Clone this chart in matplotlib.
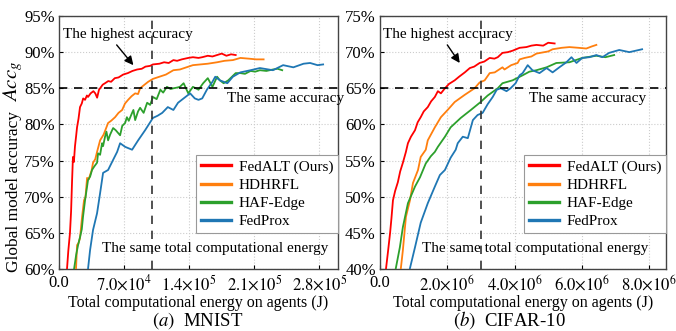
import matplotlib
matplotlib.use('Agg')
import matplotlib.pyplot as plt
import numpy as np
from matplotlib.ticker import FuncFormatter, MultipleLocator

plt.rcParams['font.family'] = ['Liberation Serif', 'DejaVu Serif']
plt.rcParams['mathtext.fontset'] = 'stix'

# ---------------- data: MNIST (energy in 1e4 J, accuracy in %) ----------------
mn_scale = 1e4
mn_red_e = [0.86, 1.0, 1.18, 1.3, 1.4, 1.5, 1.6, 1.72, 1.85, 1.94, 2.1, 2.26, 2.45, 2.6, 2.8,
            3.0, 3.12, 3.4, 3.7, 3.9, 4.1, 4.3, 4.42, 4.7, 4.95, 5.3, 5.6, 6.0, 6.4, 6.9,
            7.4, 7.9, 8.4, 8.9, 9.3, 9.8, 10.1, 10.8, 11.3, 11.8, 12.3, 12.7, 13.2, 13.9,
            14.4, 15.0, 15.4, 16.0, 16.5, 17.0, 17.5, 18.0, 18.5, 19.0]
mn_red_a = [60.0, 62.5, 65.0, 68.0, 72.0, 75.5, 74.8, 77.0, 78.5, 79.6, 80.8, 82.4, 82.9, 83.6, 83.4,
            84.0, 83.8, 84.3, 84.6, 84.3, 83.7, 84.8, 85.0, 85.5, 85.7, 86.0, 85.9, 86.4, 86.5, 86.9,
            87.1, 87.4, 87.6, 87.7, 88.0, 88.1, 88.3, 88.4, 88.6, 88.5, 88.9, 88.8, 89.0, 89.2,
            89.3, 89.2, 89.3, 89.5, 89.4, 89.6, 89.8, 89.5, 89.7, 89.6]

mn_org_e = [1.83, 1.94, 2.1, 2.26, 2.48, 2.69, 2.85, 3.02, 3.2, 3.34, 3.5, 3.66, 3.9, 4.09, 4.42,
            4.8, 5.28, 5.6, 6.03, 6.4, 6.79, 7.1, 7.43, 7.8, 8.19, 8.5, 8.72, 9.1, 9.59, 10.1,
            10.8, 11.5, 12.3, 13.0, 13.7, 14.4, 15.2, 16.0, 17.0, 17.8, 18.7, 19.5, 20.4, 21.2, 22.0]
mn_org_a = [60.0, 63.3, 63.6, 64.3, 67.2, 69.5, 70.0, 72.6, 72.4, 73.0, 73.6, 74.7, 75.2, 76.2, 77.8,
            78.6, 80.2, 80.5, 81.0, 81.6, 82.0, 82.9, 83.4, 83.9, 84.3, 84.2, 85.0, 85.4, 85.9, 86.3,
            86.6, 86.9, 87.5, 87.6, 87.9, 88.2, 88.3, 88.4, 88.6, 88.8, 88.9, 89.2, 89.1, 89.0, 89.0]

mn_grn_e = [1.62, 1.85, 2.05, 2.26, 2.45, 2.58, 2.8, 2.95, 3.12, 3.35, 3.55, 3.8, 4.09, 4.2, 4.42,
            4.63, 4.74, 4.95, 5.1, 5.28, 5.5, 5.82, 6.1, 6.3, 6.57, 6.8, 7.11, 7.3, 7.5, 7.86,
            8.0, 8.19, 8.5, 8.72, 9.1, 9.48, 9.8, 10.1, 10.5, 10.9, 11.2, 11.6, 12.0, 12.3, 12.7,
            13.0, 13.4, 13.9, 14.4, 15.0, 15.5, 16.0, 16.5, 17.0, 17.3, 17.7, 18.2, 19.0, 19.5,
            20.0, 20.6, 21.1, 21.6, 22.3, 23.0, 23.5, 24.0]
mn_grn_a = [60.0, 62.0, 63.3, 64.4, 65.5, 67.2, 69.5, 70.8, 72.3, 72.8, 73.7, 74.2, 74.7, 76.0, 75.8,
            77.4, 77.0, 78.3, 79.0, 77.8, 78.6, 79.5, 79.2, 78.9, 78.5, 79.8, 80.2, 81.0, 80.5, 81.6,
            82.0, 80.6, 81.8, 82.3, 81.6, 83.0, 82.7, 83.8, 83.5, 84.8, 84.4, 85.2, 84.9, 85.0, 85.1,
            85.2, 85.7, 84.3, 85.2, 84.8, 85.7, 86.4, 85.2, 86.6, 86.1, 85.7, 86.1, 87.1, 87.1,
            87.0, 87.4, 87.3, 87.5, 87.4, 87.6, 87.7, 87.5]

mn_blu_e = [3.12, 3.34, 3.66, 4.09, 4.42, 4.74, 5.28, 5.82, 6.25, 6.57, 7.11, 7.86, 8.51, 9.26,
            10.1, 10.6, 11.1, 11.7, 12.3, 12.8, 13.4, 14.1, 14.6, 15.0, 15.4, 15.9, 16.5, 16.8,
            17.3, 18.1, 18.7, 19.5, 20.6, 21.6, 23.0, 24.1, 25.2, 26.3, 27.0, 27.8, 28.4]
mn_blu_a = [60.0, 62.6, 65.4, 67.7, 70.5, 73.3, 73.7, 75.1, 76.2, 77.4, 76.9, 76.5, 77.8, 79.2,
            80.9, 81.2, 81.6, 82.4, 82.0, 83.0, 83.6, 84.3, 83.6, 83.4, 83.6, 84.8, 85.9, 86.6,
            86.1, 85.7, 86.6, 87.2, 87.5, 87.8, 87.5, 88.2, 87.9, 88.4, 88.5, 88.2, 88.3]

# ---------------- data: CIFAR-10 (energy in 1e6 J, accuracy in %) ----------------
cf_scale = 1e6
cf_red_e = [0.18, 0.24, 0.30, 0.34, 0.385, 0.45, 0.53, 0.60, 0.68, 0.77, 0.83, 0.92, 1.04, 1.12,
            1.21, 1.30, 1.42, 1.52, 1.63, 1.72, 1.81, 1.93, 2.05, 2.22, 2.35, 2.52, 2.67, 2.80,
            2.96, 3.1, 3.26, 3.40, 3.5, 3.64, 3.8, 3.94, 4.15, 4.35, 4.50, 4.65, 4.85, 5.0, 5.19]
cf_red_a = [40.1, 42.5, 45.0, 47.0, 49.5, 50.8, 52.0, 53.5, 54.7, 56.2, 57.4, 58.3, 59.2, 60.3,
            61.0, 61.8, 62.4, 63.2, 63.8, 64.6, 64.3, 65.0, 65.6, 66.1, 66.6, 67.2, 67.8, 68.0,
            68.5, 68.7, 69.2, 69.1, 69.3, 69.9, 70.0, 70.2, 70.6, 70.7, 70.9, 71.0, 70.9, 71.3, 71.2]

cf_org_e = [0.62, 0.68, 0.77, 0.89, 0.98, 1.13, 1.21, 1.36, 1.42, 1.63, 1.81, 2.01, 2.22, 2.52,
            2.81, 2.96, 3.11, 3.26, 3.41, 3.64, 3.7, 3.9, 4.09, 4.15, 4.3, 4.5, 4.65, 5.0, 5.13,
            5.4, 5.63, 5.9, 6.13, 6.3, 6.43]
cf_org_a = [40.1, 42.6, 47.2, 49.5, 51.9, 53.7, 55.5, 56.5, 57.8, 59.6, 61.0, 62.0, 63.1, 64.1,
            65.0, 65.8, 66.1, 67.1, 67.2, 67.9, 67.6, 68.2, 68.5, 69.0, 69.2, 69.4, 69.8, 70.1, 70.4,
            70.6, 70.7, 70.6, 70.5, 70.8, 71.0]

cf_grn_e = [0.47, 0.59, 0.68, 0.83, 1.04, 1.19, 1.36, 1.51, 1.63, 1.72, 1.93, 2.10, 2.40, 2.70,
            2.99, 3.2, 3.35, 3.5, 3.64, 3.94, 4.24, 4.44, 4.65, 4.95, 5.24, 5.63, 6.01, 6.43, 6.7, 6.96]
cf_grn_a = [40.1, 43.0, 45.8, 49.1, 51.4, 52.7, 54.6, 55.6, 56.2, 56.9, 58.3, 59.6, 60.9, 62.0,
            63.1, 64.0, 64.5, 65.0, 65.7, 66.1, 66.8, 67.3, 67.5, 67.9, 68.5, 68.6, 69.2, 69.5, 69.3, 69.6]

cf_blu_e = [0.89, 1.04, 1.21, 1.42, 1.63, 1.78, 1.93, 2.10, 2.25, 2.31, 2.46, 2.61, 2.76, 2.90,
            3.05, 3.20, 3.35, 3.47, 3.59, 3.76, 3.88, 4.03, 4.15, 4.24, 4.39, 4.53, 4.74, 4.95,
            5.13, 5.33, 5.54, 5.69, 5.84, 6.01, 6.22, 6.43, 6.61, 6.81, 7.11, 7.41, 7.79]
cf_blu_a = [40.1, 43.0, 46.4, 49.1, 51.4, 53.0, 53.7, 55.4, 56.5, 57.4, 58.3, 58.1, 60.6, 61.3,
            61.6, 62.8, 63.8, 64.8, 65.0, 64.6, 65.0, 65.7, 66.8, 67.1, 68.2, 67.5, 67.1, 67.8,
            67.2, 67.9, 68.6, 69.3, 68.5, 69.2, 69.3, 69.6, 69.3, 69.9, 70.3, 70.0, 70.4]

methods = ['FedALT (Ours)', 'HDHRFL', 'HAF-Edge', 'FedProx']
colors = ['#ff0000', '#ff7f0e', '#2ca02c', '#1f77b4']


def sci_fmt(v, pos):
    if v < 0:
        return ''
    if abs(v) < 1e-9:
        return '0.0'
    exp = int(np.floor(np.log10(v) + 1e-9))
    mant = v / 10 ** exp
    return r'$%.1f{\times}10^{%d}$' % (mant, exp)


def draw_panel(ax, series, scale, xlim, xstep, ylim, vline, hline, arrow, txt_pos):
    for (e, a), c, m in zip(series, colors, methods):
        ax.plot(np.array(e) * scale, a, color=c, lw=1.3, label=m, zorder=3)
    ax.set_xlim(*xlim)
    ax.set_ylim(*ylim)
    ax.xaxis.set_major_locator(MultipleLocator(xstep))
    ax.yaxis.set_major_locator(MultipleLocator(5))
    ax.xaxis.set_major_formatter(FuncFormatter(sci_fmt))
    ax.yaxis.set_major_formatter(FuncFormatter(lambda v, p: '%d%%' % round(v)))
    ax.tick_params(direction='in', labelsize=12, length=3)
    ax.tick_params(axis='x', pad=4)
    ax.tick_params(axis='y', pad=3)
    ax.grid(True, color='#cccccc', linestyle=':', linewidth=0.8)
    ax.set_axisbelow(True)
    ax.axvline(vline, color='#333333', linestyle=(0, (5, 4)), lw=1.2, zorder=4)
    ax.axhline(hline, color='black', linestyle=(0, (5, 4)), lw=1.2, zorder=4)
    ax.set_xlabel('Total computational energy on agents (J)', fontsize=11.5, labelpad=0.5)

    ax.annotate('', xy=arrow[1], xytext=arrow[0],
                arrowprops=dict(arrowstyle='-|>', color='black', lw=1.0, mutation_scale=13,
                                shrinkA=0, shrinkB=0))
    ax.text(*txt_pos[0], 'The highest accuracy', fontsize=11, ha='left', va='center')
    ax.text(*txt_pos[1], 'The same accuracy', fontsize=11, ha='left', va='center')
    ax.text(*txt_pos[2], 'The same total computational energy', fontsize=11, ha='left', va='center',
            zorder=2)

    leg = ax.legend(loc='lower right', bbox_to_anchor=(1.0, 0.142), borderaxespad=0,
                    fontsize=11, handlelength=2.0, labelspacing=0.3, fancybox=False,
                    framealpha=1, edgecolor='#999999', borderpad=0.3, handletextpad=0.5)
    for ln in leg.get_lines():
        ln.set_linewidth(2.4)
    leg.get_frame().set_linewidth(0.8)
    for s in ax.spines.values():
        s.set_color('#444444')
        s.set_linewidth(1.0)


fig = plt.figure(figsize=(6.76, 3.31), dpi=100)
ax1 = fig.add_axes([59 / 676, 62 / 331, 279 / 676, 253 / 331])
ax2 = fig.add_axes([380 / 676, 62 / 331, 286 / 676, 253 / 331])

draw_panel(ax1,
           [(mn_red_e, mn_red_a), (mn_org_e, mn_org_a), (mn_grn_e, mn_grn_a), (mn_blu_e, mn_blu_a)],
           mn_scale, (0, 3.0e5), 7e4, (60, 95), 1.0e5, 85,
           ((6.2e4, 91.0), (8.0e4, 88.2)),
           [(0.4e4, 92.5), (1.81e5, 83.6), (4.6e4, 62.9)])
draw_panel(ax2,
           [(cf_red_e, cf_red_a), (cf_org_e, cf_org_a), (cf_grn_e, cf_grn_a), (cf_blu_e, cf_blu_a)],
           cf_scale, (0, 8.5e6), 2e6, (40, 75), 3.0e6, 65,
           ((2.0e6, 71.0), (2.37e6, 68.5)),
           [(0.09e6, 72.5), (4.44e6, 63.6), (1.24e6, 42.9)])

# y label: plain words plus a larger italic Acc_g, as in the original
fig.text(14 / 676, 1 - 191 / 331, 'Global model accuracy', rotation=90,
         ha='center', va='center', fontsize=12.5)
fig.text(13 / 676, 1 - 81 / 331, r'$Acc_g$', rotation=90,
         ha='center', va='center', fontsize=15)

fig.text(198 / 676, 1 - 320.5 / 331, r'$(a)$  MNIST', ha='center', va='center', fontsize=13.5)
fig.text(509 / 676, 1 - 320.5 / 331, r'$(b)$  CIFAR-10', ha='center', va='center', fontsize=13.5)

fig.savefig('out.png', dpi=100, facecolor='white')
plt.close(fig)
